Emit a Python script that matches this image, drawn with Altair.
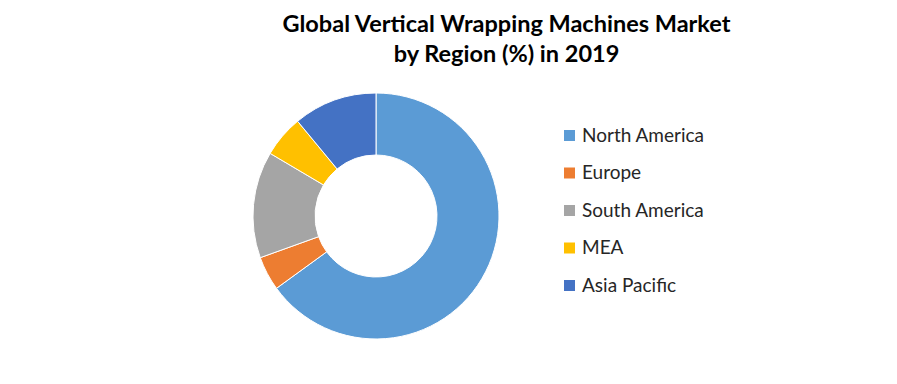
import altair as alt
import pandas as pd

regions = ["North America", "Europe", "South America", "MEA", "Asia Pacific"]
shares = [65, 4.5, 14, 5.5, 11]
colors = ["#5B9BD5", "#ED7D31", "#A5A5A5", "#FFC000", "#4472C4"]

df = pd.DataFrame({"Region": regions, "Share": shares, "order": list(range(len(regions)))})

chart = alt.Chart(df).mark_arc(
    outerRadius=123, innerRadius=61, stroke="white", strokeWidth=1
).encode(
    theta=alt.Theta("Share:Q", stack=True),
    order=alt.Order("order:Q"),
    color=alt.Color(
        "Region:N",
        sort=regions,
        scale=alt.Scale(domain=regions, range=colors),
        legend=alt.Legend(
            title=None,
            orient="none",
            legendX=552,
            legendY=54,
            symbolType="square",
            symbolSize=121,
            symbolStrokeWidth=0,
            labelFontSize=19,
            labelFont="Lato",
            labelColor="#262626",
            rowPadding=17.5,
            labelOffset=3,
        ),
    ),
    x=alt.value(368),
    y=alt.value(144),
).properties(
    width=865,
    height=300,
    title=alt.TitleParams(
        text=["Global Vertical Wrapping Machines Market", "by Region (%) in 2019"],
        font="Lato",
        fontSize=23.5,
        fontWeight="bold",
        color="black",
        anchor="middle",
        dx=66,
        lineHeight=30,
        offset=6,
    ),
    padding={"top": 4, "left": 0, "right": 0, "bottom": 0},
).configure_view(stroke=None)

chart.save("out.html", embed_options={"renderer": "svg", "actions": False})
